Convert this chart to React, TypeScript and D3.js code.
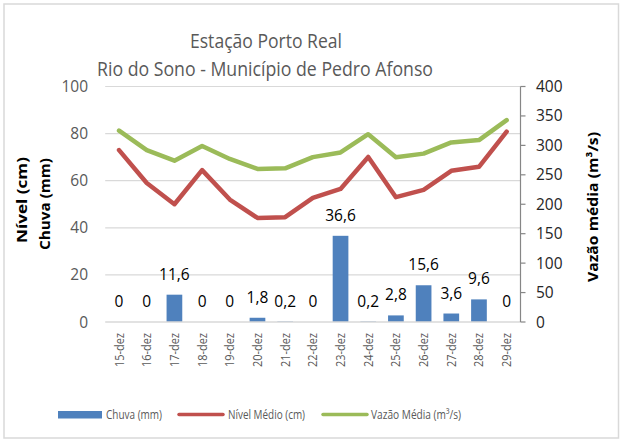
import React from "react";
import * as d3 from "d3";

const categories = ["15-dez","16-dez","17-dez","18-dez","19-dez","20-dez","21-dez","22-dez","23-dez","24-dez","25-dez","26-dez","27-dez","28-dez","29-dez"];
const chuva = [0, 0, 11.6, 0, 0, 1.8, 0.2, 0, 36.6, 0.2, 2.8, 15.6, 3.6, 9.6, 0];
const nivel = [73, 59, 50, 64.5, 52, 44.2, 44.5, 52.7, 56.5, 70.1, 53, 56.1, 64.2, 65.9, 80.8];
const vazao = [325, 292, 274, 299, 277, 260, 261, 280, 288, 319, 280, 286, 305, 309, 343];
const leftTicks = [0, 20, 40, 60, 80, 100];
const rightTicks = [0, 50, 100, 150, 200, 250, 300, 350, 400];

const FONT = "'Open Sans', sans-serif";
const BLUE = "#4f81bd";
const RED = "#c0504d";
const GREEN = "#9bbb59";

export default function App() {
  const left = 105.2, right = 520.5, top = 86.5, bottom = 322;
  const x = d3.scaleBand<string>().domain(categories).range([left, right]).paddingInner(0.433).paddingOuter(0.2165);
  const cx = (c: string) => (x(c) as number) + x.bandwidth() / 2;
  const yL = d3.scaleLinear().domain([0, 100]).range([bottom, top]);
  const yR = d3.scaleLinear().domain([0, 400]).range([bottom, top]);
  const fmt = (v: number) => String(v).replace(".", ",");
  const lineL = d3.line<number>().x((_, i) => cx(categories[i])).y((d) => yL(d));
  const lineR = d3.line<number>().x((_, i) => cx(categories[i])).y((d) => yR(d));

  return (
    <svg width={621} height={443} style={{ position: "absolute", left: 0, top: 0, background: "#fff" }} fontFamily={FONT}>
      <rect x={4} y={4} width={614.5} height={434} fill="#fff" stroke="#d9d9d9" strokeWidth={1.5} />
      <text x={266} y={48} textAnchor="middle" fontSize={20} fill="#595959" textLength={152} lengthAdjust="spacingAndGlyphs">Estação Porto Real</text>
      <text x={265} y={76} textAnchor="middle" fontSize={20} fill="#595959" textLength={336} lengthAdjust="spacingAndGlyphs">Rio do Sono - Município de Pedro Afonso</text>

      {leftTicks.map((t) => (
        <g key={"g" + t}>
          {t > 0 && <line x1={left} x2={right} y1={yL(t)} y2={yL(t)} stroke="#d9d9d9" strokeWidth={1.2} />}
          <text x={88} y={yL(t) + 5.5} textAnchor="end" fontSize={15.5} fill="#595959">{t}</text>
        </g>
      ))}

      {categories.map((c, i) => (
        <rect key={"b" + c} x={x(c)} y={yL(chuva[i])} width={x.bandwidth()} height={bottom - yL(chuva[i])} fill={BLUE} />
      ))}

      <line x1={left} x2={right} y1={bottom} y2={bottom} stroke="#d9d9d9" strokeWidth={1.5} />

      <path d={lineR(vazao) || ""} fill="none" stroke={GREEN} strokeWidth={4.5} strokeLinejoin="round" strokeLinecap="round" />
      <path d={lineL(nivel) || ""} fill="none" stroke={RED} strokeWidth={4.5} strokeLinejoin="round" strokeLinecap="round" />

      {categories.map((c, i) => (
        <text key={"l" + c} x={cx(c)} y={yL(chuva[i]) - 15} textAnchor="middle" fontSize={15.5} fill="#000">{fmt(chuva[i])}</text>
      ))}

      <line x1={right} x2={right} y1={top} y2={bottom} stroke="#868686" strokeWidth={1.2} />
      {rightTicks.map((t) => (
        <g key={"r" + t}>
          <line x1={right} x2={right + 5} y1={yR(t)} y2={yR(t)} stroke="#868686" strokeWidth={1.2} />
          <text x={536} y={yR(t) + 5.5} textAnchor="start" fontSize={15.5} fill="#262626">{t}</text>
        </g>
      ))}

      {categories.map((c) => (
        <text key={"x" + c} transform={`translate(${cx(c) + 4.5},${333}) rotate(-90)`} textAnchor="end" fontSize={13} fill="#595959" textLength={34} lengthAdjust="spacingAndGlyphs">{c}</text>
      ))}

      <text transform="translate(27,200) rotate(-90)" textAnchor="middle" fontSize={15} fontWeight="bold" fill="#000" textLength={86} lengthAdjust="spacingAndGlyphs">Nível (cm)</text>
      <text transform="translate(50,204) rotate(-90)" textAnchor="middle" fontSize={15} fontWeight="bold" fill="#000" textLength={92} lengthAdjust="spacingAndGlyphs">Chuva (mm)</text>
      <text transform="translate(598,207) rotate(-90)" textAnchor="middle" fontSize={15} fontWeight="bold" fill="#000" textLength={150} lengthAdjust="spacingAndGlyphs">Vazão média (m³/s)</text>

      <rect x={58} y={411} width={44} height={7.5} fill={BLUE} />
      <text x={106} y={419} fontSize={12.5} fill="#595959" textLength={56} lengthAdjust="spacingAndGlyphs">Chuva (mm)</text>
      <line x1={179} x2={223} y1={414.5} y2={414.5} stroke={RED} strokeWidth={3.5} strokeLinecap="round" />
      <text x={228} y={419} fontSize={12.5} fill="#595959" textLength={77} lengthAdjust="spacingAndGlyphs">Nível Médio (cm)</text>
      <line x1={323} x2={367} y1={414.5} y2={414.5} stroke={GREEN} strokeWidth={3.5} strokeLinecap="round" />
      <text x={371} y={419} fontSize={12.5} fill="#595959" textLength={90} lengthAdjust="spacingAndGlyphs">Vazão Média (m³/s)</text>
    </svg>
  );
}
